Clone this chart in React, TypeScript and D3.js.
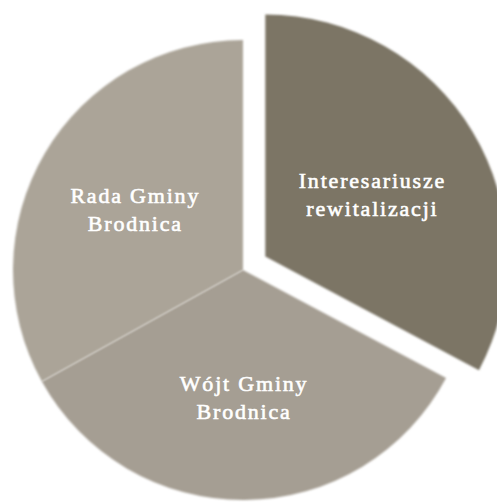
import React from "react";
import * as d3 from "d3";

// slices clockwise from 12 o'clock
const labels = [
  ["Interesariusze", "rewitalizacji"],
  ["Wójt Gminy", "Brodnica"],
  ["Rada Gminy", "Brodnica"],
];
const values = [118, 123, 119];
const colors = ["#7b7565", "#a59e93", "#aba498"];
const exploded = [true, false, false];

const width = 497;
const height = 502;

const App: React.FC = () => {
  const cx = 243;
  const cy = 270;
  const radius = 230;
  const explodedRadius = 242;
  const offset = 26;
  const labelR = 125;

  const data = values.map((v, i) => ({ v, i }));
  const pie = d3
    .pie<{ v: number; i: number }>()
    .sort(null)
    .value((d) => d.v);
  const arcs = pie(data);

  const arc = d3.arc<d3.PieArcDatum<{ v: number; i: number }>>().innerRadius(0);
  const labelArc = d3
    .arc<d3.PieArcDatum<{ v: number; i: number }>>()
    .innerRadius(labelR)
    .outerRadius(labelR);

  return (
    <svg
      width={width}
      height={height}
      style={{ position: "absolute", left: 0, top: 0, background: "#ffffff" }}
    >
      <defs>
        <filter id="soft" x="-5%" y="-5%" width="110%" height="110%">
          <feGaussianBlur stdDeviation="0.8" />
        </filter>
      </defs>
      <g transform={`translate(${cx},${cy})`}>
        {arcs.map((a, k) => {
          const mid = (a.startAngle + a.endAngle) / 2;
          const dx = exploded[k] ? Math.sin(mid) * offset : 0;
          const dy = exploded[k] ? -Math.cos(mid) * offset : 0;
          const r = exploded[k] ? explodedRadius : radius;
          const [lx, ly] = labelArc.centroid(a);
          return (
            <g key={k} transform={`translate(${dx},${dy})`}>
              <path
                d={arc.outerRadius(r)(a) || ""}
                fill={colors[k]}
                filter="url(#soft)"
              />
              <text
                x={lx}
                y={ly}
                textAnchor="middle"
                fill="#ffffff"
                stroke="#ffffff"
                strokeWidth={0.6}
                fontFamily="'Liberation Serif', 'DejaVu Serif', serif"
                fontSize={22}
                letterSpacing={1.8}
              >
                {labels[k].map((line, j) => (
                  <tspan key={j} x={lx} dy={j === 0 ? -4 : 28}>
                    {line}
                  </tspan>
                ))}
              </text>
            </g>
          );
        })}
      </g>
    </svg>
  );
};

export default App;
